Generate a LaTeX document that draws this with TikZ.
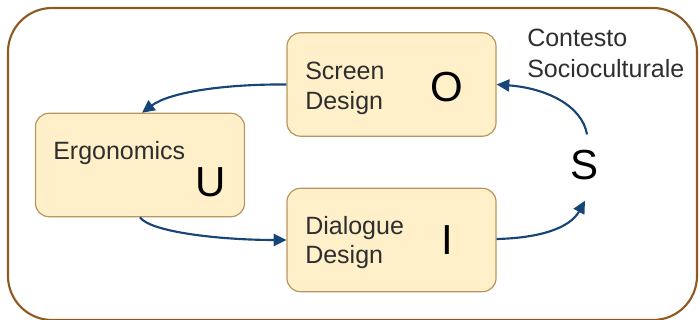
\documentclass[tikz,border=0pt]{standalone}
\usepackage{fontspec}
\setmainfont{Liberation Sans}
\usetikzlibrary{arrows.meta}
\definecolor{outerc}{HTML}{8E5A22}
\definecolor{boxfill}{HTML}{FFF0CA}
\definecolor{boxline}{HTML}{B8955E}
\definecolor{arrc}{HTML}{174676}
\definecolor{txt}{HTML}{2E2E2E}
\begin{document}
\begin{tikzpicture}[x=0.75pt,y=-0.75pt,
  outerbox/.style={draw=outerc,line width=1.6pt,rounded corners=33pt},
  roundbox/.style={draw=boxline,fill=boxfill,line width=0.9pt,rounded corners=10pt,
    minimum width=156.75pt,minimum height=77.5pt,inner sep=0pt},
  lbl/.style={font=\fontsize{18.75pt}{22.5pt}\selectfont,text=txt,inner sep=0pt,anchor=base west},
  big/.style={font=\fontsize{31.5pt}{36pt}\selectfont,text=black,inner sep=0pt,anchor=base},
  conn/.style={draw=arrc,line width=1.6pt,-{Triangle[length=9.5pt,width=9pt]}}]
\useasboundingbox (0,0) rectangle (700,320);
\begin{scope}
\clip (0,0) rectangle (700,319.5);
\draw[outerbox] (8,8) rectangle (697,320);
\end{scope}
% boxes
\node[roundbox] (scr) at (391.5,84.5) {};
\node[roundbox] (erg) at (140,165) {};
\node[roundbox] (dlg) at (391.5,240) {};
% labels
\node[lbl] (scr1) at (305,80) {Screen};
\node[lbl] (scr2) at (305,110) {Design};
\node[lbl] (ergt) at (53,160) {Ergonomics};
\node[lbl] (dlg1) at (305,235) {Dialogue};
\node[lbl] (dlg2) at (305,264) {Design};
\node[lbl] (ctx1) at (527,47) {Contesto};
\node[lbl] (ctx2) at (527,78) {Socioculturale};
\node[big] (O) at (447,102) {O};
\node[big] (U) at (211,197) {U};
\node[big] (I) at (447,255) {I};
\node[big] (S) at (585,180) {S};
% connectors
\draw[conn] (scr.west) .. controls (225,84) and (170,92) .. ([xshift=1.5pt]erg.north);
\draw[conn] (erg.south) .. controls (150,232) and (220,240) .. (dlg.west);
\draw[conn] ([yshift=0.75pt]dlg.east) .. controls (540,238) and (570,228) .. ([yshift=-15pt]S.south);
\draw[conn] ([xshift=1.5pt,yshift=12pt]S.north) .. controls (582,105) and (545,88) .. (scr.east);
\end{tikzpicture}
\end{document}
